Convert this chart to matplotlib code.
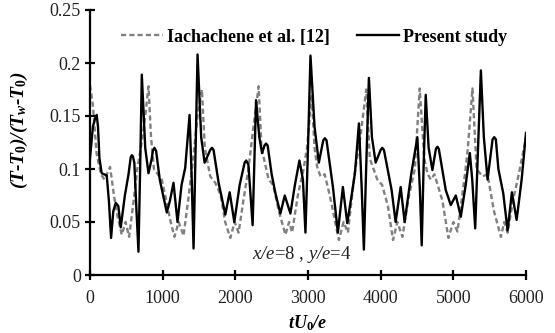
import matplotlib
matplotlib.use("Agg")
import matplotlib.pyplot as plt

plt.rcParams['mathtext.fontset'] = 'custom'
plt.rcParams['mathtext.rm'] = 'Liberation Serif:bold'
plt.rcParams['mathtext.it'] = 'Liberation Serif:italic:bold'
plt.rcParams['mathtext.sf'] = 'Liberation Serif:italic'

# Iachachene et al. [12] (dashed)
ref_t = [0, 40, 90, 150, 200, 276, 330, 380, 437, 490, 538, 600, 650, 700, 760, 805, 840, 880,
         988, 1050, 1110, 1163, 1220, 1287, 1350, 1420, 1480, 1540, 1580, 1655, 1724, 1800, 1860,
         1931, 1990, 2045, 2110, 2180, 2250, 2321, 2360, 2459, 2520, 2600, 2689, 2740, 2781, 2860,
         2940, 2988, 3050, 3090, 3126, 3172, 3230, 3300, 3425, 3490, 3549, 3640, 3720, 3802, 3850,
         3954, 4020, 4100, 4170, 4230, 4299, 4390, 4470, 4537, 4600, 4643, 4689, 4740, 4850, 4932,
         5000, 5057, 5160, 5200, 5263, 5320, 5401, 5470, 5560, 5655, 5700, 5747, 5820, 5900, 6000]
ref_v = [0.179, 0.16, 0.115, 0.095, 0.090, 0.102, 0.075, 0.055, 0.038, 0.05, 0.036, 0.07, 0.10, 0.12,
         0.15, 0.178, 0.13, 0.10, 0.090, 0.07, 0.05, 0.036, 0.05, 0.037, 0.07, 0.11, 0.15, 0.175, 0.12,
         0.093, 0.087, 0.075, 0.05, 0.035, 0.05, 0.040, 0.07, 0.10, 0.14, 0.178, 0.12, 0.090, 0.085,
         0.06, 0.038, 0.05, 0.040, 0.075, 0.10, 0.121, 0.17, 0.12, 0.102, 0.093, 0.095, 0.075, 0.033,
         0.05, 0.040, 0.095, 0.13, 0.175, 0.11, 0.090, 0.085, 0.065, 0.033, 0.05, 0.036, 0.075, 0.10,
         0.176, 0.11, 0.096, 0.090, 0.095, 0.07, 0.035, 0.05, 0.041, 0.095, 0.12, 0.176, 0.10, 0.093,
         0.095, 0.06, 0.036, 0.05, 0.040, 0.07, 0.095, 0.13]

# Present study (solid)
pre_t = [0, 40, 75, 92, 110, 130, 161, 230, 260, 290, 320, 354, 390, 423, 480, 530, 560, 575, 590,
         610, 640, 667, 690, 713, 760, 805, 850, 865, 887, 910, 960, 1057, 1100, 1149, 1204, 1260,
         1310, 1370, 1400, 1425, 1450, 1480, 1530, 1577, 1655, 1678, 1700, 1770, 1862, 1922, 1986,
         2060, 2128, 2150, 2180, 2238, 2285, 2330, 2368, 2400, 2423, 2445, 2500, 2552, 2620, 2680,
         2758, 2820, 2882, 2930, 2965, 3000, 3034, 3090, 3149, 3210, 3232, 3255, 3343, 3411, 3480,
         3540, 3600, 3646, 3701, 3740, 3769, 3800, 3838, 3880, 3931, 4000, 4022, 4045, 4151, 4206,
         4275, 4330, 4420, 4505, 4540, 4565, 4590, 4620, 4660, 4712, 4760, 4781, 4800, 4896, 4965,
         5034, 5103, 5170, 5227, 5260, 5301, 5340, 5379, 5420, 5471, 5540, 5563, 5585, 5620, 5687,
         5747, 5806, 5871, 5940, 6000]
pre_v = [0.11, 0.14, 0.149, 0.151, 0.14, 0.11, 0.096, 0.094, 0.07, 0.035, 0.06, 0.068, 0.065, 0.045,
         0.075, 0.095, 0.111, 0.113, 0.112, 0.106, 0.06, 0.022, 0.10, 0.189, 0.12, 0.096, 0.11, 0.117,
         0.120, 0.117, 0.09, 0.059, 0.07, 0.087, 0.050, 0.085, 0.101, 0.151, 0.09, 0.025, 0.11, 0.208,
         0.13, 0.106, 0.118, 0.120, 0.118, 0.087, 0.057, 0.078, 0.050, 0.085, 0.106, 0.108, 0.104,
         0.047, 0.165, 0.13, 0.115, 0.122, 0.124, 0.122, 0.095, 0.077, 0.058, 0.075, 0.058, 0.085,
         0.108, 0.09, 0.040, 0.12, 0.207, 0.14, 0.106, 0.127, 0.129, 0.127, 0.083, 0.040, 0.083, 0.049,
         0.075, 0.096, 0.143, 0.08, 0.024, 0.10, 0.186, 0.13, 0.106, 0.118, 0.120, 0.118, 0.080, 0.050,
         0.083, 0.050, 0.095, 0.130, 0.08, 0.028, 0.10, 0.170, 0.12, 0.099, 0.119, 0.121, 0.119, 0.080,
         0.066, 0.075, 0.055, 0.085, 0.115, 0.09, 0.044, 0.12, 0.193, 0.13, 0.090, 0.128, 0.130, 0.128,
         0.10, 0.077, 0.042, 0.078, 0.052, 0.09, 0.134]

x_ticks = [0, 1000, 2000, 3000, 4000, 5000, 6000]
y_ticks = [0, 0.05, 0.1, 0.15, 0.2, 0.25]
y_labels = ['0', '0.05', '0.1', '0.15', '0.2', '0.25']

fig = plt.figure(figsize=(5.55, 3.33), dpi=100)
ax = fig.add_axes([90/555, 1-275/333, 436/555, 265/333])

ax.plot(ref_t, ref_v, color='#808080', lw=1.7, dashes=(2.2, 1.3), label='Iachachene et al. [12]')
ax.plot(pre_t, pre_v, color='black', lw=1.7, solid_joinstyle='round', label='Present study')

ax.set_xlim(0, 6000)
ax.set_ylim(0, 0.25)
ax.set_xticks(x_ticks)
ax.set_yticks(y_ticks)
ax.set_yticklabels(y_labels)
for s in ['top', 'right']:
    ax.spines[s].set_visible(False)
for s in ['left', 'bottom']:
    ax.spines[s].set_linewidth(1.6)
ax.tick_params(direction='inout', length=7, width=1.6, labelsize=13)
ax.tick_params(axis='x', pad=7)
ax.tick_params(axis='y', pad=3)
for lab in ax.get_xticklabels() + ax.get_yticklabels():
    lab.set_family('Liberation Serif')
    lab.set_color('#222222')

ax.set_ylabel(r'(T-T$_0$)/(T$_w$-T$_0$)', family='Liberation Serif', fontweight='bold',
              fontstyle='italic', fontsize=14)
ax.yaxis.set_label_coords(-0.138, 0.547)
ax.set_xlabel(r'tU$_{\mathit{0}}$/e', family='Liberation Serif', fontweight='bold',
              fontstyle='italic', fontsize=13, labelpad=5)

ax.text(0.372, 0.078, r'$\mathsf{x/e}$=8 , $\mathsf{y/e}$=4', transform=ax.transAxes,
        family='Liberation Serif', fontsize=13.5, ha='left', va='center', color='#222222')

leg = ax.legend(loc='center', bbox_to_anchor=(0.515, 0.898), ncol=2, frameon=False,
                prop={'family': 'Liberation Serif', 'weight': 'bold', 'size': 13},
                handlelength=2.3, columnspacing=1.5, handletextpad=0.25)

fig.savefig('out.png', dpi=100)
